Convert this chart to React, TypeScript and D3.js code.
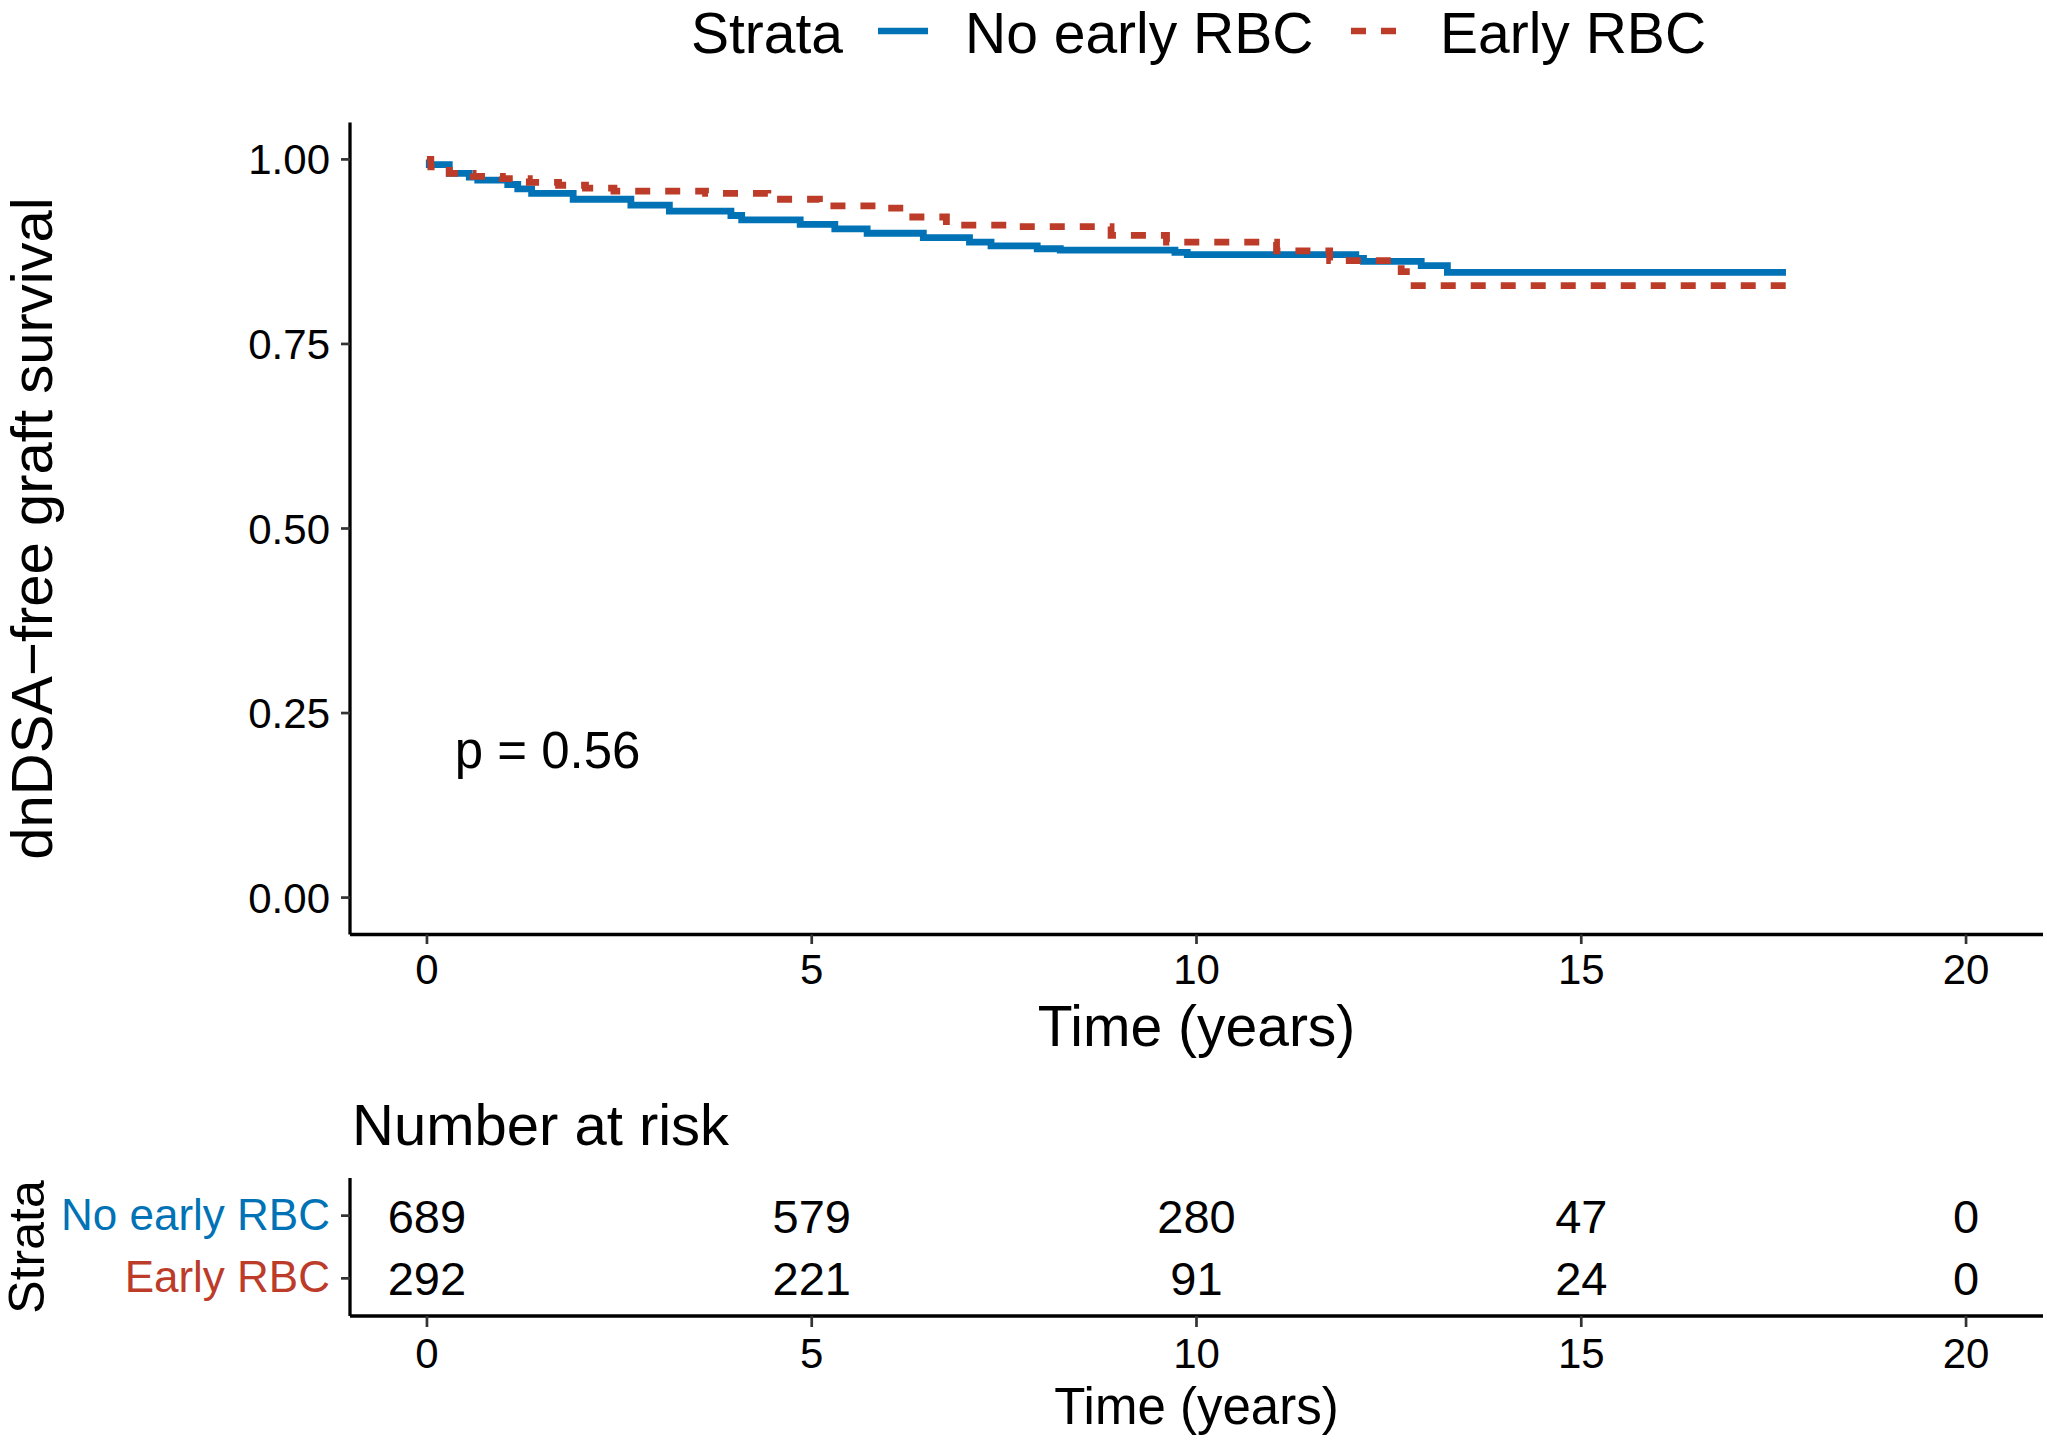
import * as d3 from "d3";

// Kaplan-Meier steps: [time (years), survival]
const noEarlyRBC: [number, number][] = [
  [0, 1.0], [0.03, 0.993], [0.29, 0.981], [0.55, 0.976], [0.66, 0.972],
  [1.05, 0.966], [1.18, 0.96], [1.36, 0.954], [1.9, 0.946], [2.65, 0.938],
  [3.15, 0.93], [3.95, 0.924], [4.09, 0.918], [4.85, 0.912], [5.3, 0.906],
  [5.72, 0.9], [6.45, 0.894], [7.05, 0.888], [7.33, 0.883], [7.93, 0.879],
  [8.23, 0.877], [9.72, 0.874], [9.88, 0.871], [12.07, 0.866], [12.17, 0.862],
  [12.92, 0.856], [13.26, 0.847], [17.66, 0.847],
];
const earlyRBC: [number, number][] = [
  [0, 1.0], [0.05, 0.99], [0.29, 0.981], [0.6, 0.977], [0.98, 0.974],
  [1.33, 0.969], [1.71, 0.965], [2.06, 0.961], [2.43, 0.957], [3.62, 0.954],
  [4.43, 0.946], [5.1, 0.937], [5.97, 0.934], [6.23, 0.922], [6.75, 0.911],
  [7.6, 0.909], [8.89, 0.897], [9.61, 0.888], [11.04, 0.876], [11.73, 0.863],
  [12.66, 0.848], [12.78, 0.829], [17.66, 0.829],
];

const strata = ["No early RBC", "Early RBC"];
const colors = ["#0072B5", "#BC3C29"];
const xTicks = [0, 5, 10, 15, 20];
const yTicks = [0, 0.25, 0.5, 0.75, 1];
const riskNoEarly = [689, 579, 280, 47, 0];
const riskEarly = [292, 221, 91, 24, 0];

const W = 2047;
const H = 1442;
const font = "'Liberation Sans', Arial, Helvetica, sans-serif";

const App = () => {
  const left = 350;
  const right = 2043;

  const x = d3.scaleLinear().domain([-1, 21]).range([left, right]);
  const y = d3.scaleLinear().domain([-0.05, 1.05]).range([934.5, 122.5]);

  const riskTop = 1178;
  const riskBottom = 1316;
  const yRisk = d3.scalePoint<string>().domain(strata).range([riskTop, riskBottom]).padding(0.6);

  const line = d3
    .line<[number, number]>()
    .x((d) => x(d[0]))
    .y((d) => y(d[1]))
    .curve(d3.curveStepAfter);

  const series = [noEarlyRBC, earlyRBC];
  const risk = [riskNoEarly, riskEarly];

  return (
    <svg
      width={W}
      height={H}
      viewBox={`0 0 ${W} ${H}`}
      style={{ position: "absolute", left: 0, top: 0, background: "#fff" }}
      fontFamily={font}
    >
      <rect width={W} height={H} fill="#fff" />

      {/* legend */}
      <g fontSize={57} fill="#000">
        <text x={691} y={53}>Strata</text>
        <line x1={878} x2={928} y1={31} y2={31} stroke={colors[0]} strokeWidth={6.5} />
        <text x={965} y={53}>{strata[0]}</text>
        <line x1={1351} x2={1400} y1={31} y2={31} stroke={colors[1]} strokeWidth={6.5} strokeDasharray="15 15" />
        <text x={1440} y={53}>{strata[1]}</text>
      </g>

      {/* curves */}
      {series.map((s, i) => (
        <path
          key={i}
          d={line(s) ?? ""}
          fill="none"
          stroke={colors[i]}
          strokeWidth={6.8}
          strokeDasharray={i === 1 ? "15 15" : undefined}
        />
      ))}

      {/* main axes */}
      <line x1={left} x2={left} y1={122.5} y2={934.5} stroke="#000" strokeWidth={3.3} />
      <line x1={left} x2={right} y1={934.5} y2={934.5} stroke="#000" strokeWidth={3.3} />
      {yTicks.map((t) => (
        <g key={t}>
          <line x1={341} x2={left} y1={y(t)} y2={y(t)} stroke="#333" strokeWidth={2.7} />
          <text x={330} y={y(t) + 15} fontSize={42} textAnchor="end">
            {t.toFixed(2)}
          </text>
        </g>
      ))}
      {xTicks.map((t) => (
        <g key={t}>
          <line x1={x(t)} x2={x(t)} y1={934.5} y2={944} stroke="#333" strokeWidth={2.7} />
          <text x={x(t)} y={984} fontSize={42} textAnchor="middle">
            {t}
          </text>
        </g>
      ))}
      <text x={(left + right) / 2} y={1046} fontSize={57} textAnchor="middle">
        Time (years)
      </text>
      <text
        transform={`translate(52, ${(122.5 + 934.5) / 2}) rotate(-90)`}
        fontSize={58}
        textAnchor="middle"
      >
        dnDSA−free graft survival
      </text>
      <text x={x(0.36)} y={768} fontSize={51}>
        p = 0.56
      </text>

      {/* risk table */}
      <text x={352} y={1145} fontSize={58}>
        Number at risk
      </text>
      <line x1={left} x2={left} y1={riskTop} y2={riskBottom} stroke="#000" strokeWidth={3.3} />
      <line x1={left} x2={right} y1={riskBottom} y2={riskBottom} stroke="#000" strokeWidth={3.3} />
      {strata.map((s, i) => {
        const ry = yRisk(s) ?? 0;
        return (
          <g key={s}>
            <line x1={341} x2={left} y1={ry} y2={ry} stroke="#333" strokeWidth={2.7} />
            <text x={330} y={ry + 14} fontSize={44} textAnchor="end" fill={colors[i]}>
              {s}
            </text>
            {risk[i].map((n, j) => (
              <text key={j} x={x(xTicks[j])} y={ry + 17} fontSize={47} textAnchor="middle">
                {n}
              </text>
            ))}
          </g>
        );
      })}
      {xTicks.map((t) => (
        <g key={t}>
          <line x1={x(t)} x2={x(t)} y1={riskBottom} y2={1327} stroke="#333" strokeWidth={2.7} />
          <text x={x(t)} y={1368} fontSize={42} textAnchor="middle">
            {t}
          </text>
        </g>
      ))}
      <text x={(left + right) / 2} y={1424} fontSize={51} textAnchor="middle">
        Time (years)
      </text>
      <text
        transform={`translate(44, ${(riskTop + riskBottom) / 2}) rotate(-90)`}
        fontSize={50}
        textAnchor="middle"
      >
        Strata
      </text>
    </svg>
  );
};

export default App;
